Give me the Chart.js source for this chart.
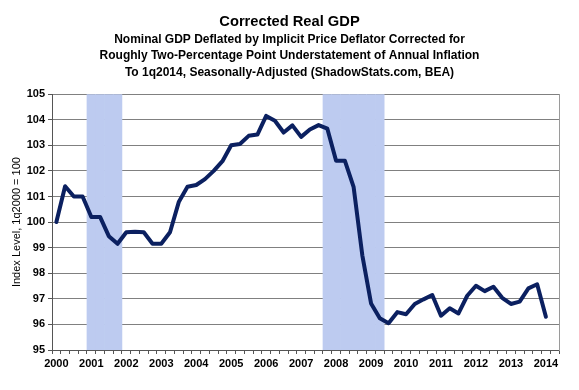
<!DOCTYPE html>
<html>
<head>
<meta charset="utf-8">
<title>Corrected Real GDP</title>
<script src="https://cdn.jsdelivr.net/npm/chart.js@4.4.1/dist/chart.umd.min.js"></script>
<style>
    html, body{
        margin:0;
        padding:0;
        background:#ffffff;
    }
    .chart-box{
        width:579px;
        height:390px;
        position:relative;
    }
</style>
</head>
<body>

<div class="chart-box">
    <canvas id="gdpChart"></canvas>
</div>

<script>

/* =====================================
   DATA
===================================== */

const years = [
    2000, 2001, 2002, 2003, 2004, 2005, 2006, 2007,
    2008, 2009, 2010, 2011, 2012, 2013, 2014
];

// quarterly index, 1q2000 = 100, through 1q2014
const correctedGdp = [
    100.0, 101.4, 101.0, 101.0,
    100.2, 100.2, 99.45, 99.15,
    99.6, 99.62, 99.6, 99.15,
    99.15, 99.6, 100.78, 101.38,
    101.45, 101.68, 102.0, 102.38,
    103.0, 103.05, 103.37, 103.42,
    104.15, 103.96, 103.5, 103.78,
    103.33, 103.62, 103.79, 103.65,
    102.4, 102.4, 101.38, 98.7,
    96.82, 96.24, 96.05, 96.48,
    96.4, 96.8, 96.98, 97.15,
    96.34, 96.63, 96.43, 97.12,
    97.51, 97.3, 97.47, 97.04,
    96.8, 96.89, 97.41, 97.57,
    96.3
];

// recession quarters (first, last)
const recessions = [
    ["2001 Q1", "2001 Q4"],
    ["2007 Q4", "2009 Q2"]
];

const yTicks = [95, 96, 97, 98, 99, 100, 101, 102, 103, 104, 105];

/* =====================================
   START
===================================== */

document.addEventListener("DOMContentLoaded", () => {

    initializeGdpChart();

});

/* =====================================
   HELPERS
===================================== */

function buildQuarterLabels(){

    const labels = [];

    years.forEach(year => {
        for(let q = 1; q <= 4; q++){
            labels.push(year + " Q" + q);
        }
    });

    // one empty quarter after the last point
    return labels.slice(0, correctedGdp.length + 1);

}

function buildRecessionBars(labels){

    return labels.map((label, i) => {

        const inside = recessions.some(r =>
            i >= labels.indexOf(r[0]) && i <= labels.indexOf(r[1])
        );

        return inside ? [yTicks[0], yTicks[yTicks.length - 1]] : null;

    });

}

/* =====================================
   GDP CHART
===================================== */

function initializeGdpChart(){

    const ctx = document.getElementById("gdpChart");

    if(!ctx) return;

    const labels = buildQuarterLabels();

    const font = "'Liberation Sans', Arial, sans-serif";

    new Chart(ctx, {

        data:{

            labels:labels,

            datasets:[

                {
                    type:"line",
                    label:"Corrected Real GDP",
                    data:correctedGdp,
                    borderColor:"#0b2060",
                    borderWidth:4,
                    borderJoinStyle:"round",
                    borderCapStyle:"round",
                    pointRadius:0,
                    tension:0,
                    fill:false,
                    order:0
                },

                {
                    type:"bar",
                    label:"Recession",
                    data:buildRecessionBars(labels),
                    backgroundColor:"#bdcbf0",
                    borderWidth:0,
                    barPercentage:1,
                    categoryPercentage:1,
                    order:1
                }

            ]

        },

        options:{

            responsive:true,
            maintainAspectRatio:false,
            animation:false,

            layout:{
                padding:{ left:0, right:0, top:0, bottom:0 }
            },

            plugins:{

                legend:{ display:false },
                tooltip:{ enabled:false },

                title:{
                    display:true,
                    text:"Corrected Real GDP",
                    color:"#000",
                    font:{ family:font, size:14.7, weight:"bold", lineHeight:1.2 },
                    padding:{ top:13, bottom:0.5 }
                },

                subtitle:{
                    display:true,
                    text:[
                        "Nominal GDP Deflated by Implicit Price Deflator Corrected for",
                        "Roughly Two-Percentage Point Understatement of Annual Inflation",
                        "To 1q2014, Seasonally-Adjusted (ShadowStats.com, BEA)"
                    ],
                    color:"#000",
                    font:{ family:font, size:12, weight:"bold", lineHeight:1.375 },
                    padding:{ top:0, bottom:13.5 }
                }

            },

            scales:{

                x:{
                    type:"category",
                    offset:true,
                    grid:{
                        offset:true,
                        drawOnChartArea:false,
                        tickLength:4,
                        tickColor:"#555"
                    },
                    border:{ color:"#555", width:1 },
                    ticks:{
                        autoSkip:false,
                        maxRotation:0,
                        padding:3,
                        color:"#000",
                        font:{ family:font, size:11, weight:"bold" },
                        callback:function(value, index){
                            return index % 4 === 0 ? labels[index].slice(0, 4) : "";
                        }
                    },
                    afterFit:function(scale){
                        scale.height = 40;
                    }
                },

                y:{
                    type:"linear",
                    position:"left",
                    min:yTicks[0],
                    max:yTicks[yTicks.length - 1],
                    afterBuildTicks:function(scale){
                        scale.ticks = yTicks.map(v => ({ value:v }));
                    },
                    grid:{
                        color:"#808080",
                        lineWidth:1,
                        tickLength:4,
                        tickColor:"#555"
                    },
                    border:{ color:"#555", width:1 },
                    ticks:{
                        padding:3,
                        color:"#000",
                        font:{ family:font, size:11, weight:"bold" }
                    },
                    title:{
                        display:true,
                        text:"Index Level, 1q2000 = 100",
                        color:"#000",
                        font:{ family:font, size:11, lineHeight:1.2 },
                        padding:{ top:10, bottom:0 }
                    },
                    afterFit:function(scale){
                        scale.width = 52;
                    }
                },

                yRight:{
                    type:"linear",
                    position:"right",
                    min:yTicks[0],
                    max:yTicks[yTicks.length - 1],
                    grid:{ drawOnChartArea:false, drawTicks:false },
                    border:{ color:"#9a9a9a", width:1, dash:[2, 2] },
                    ticks:{ display:false },
                    afterFit:function(scale){
                        scale.width = 20;
                    }
                }

            }

        }

    });

}

</script>
</body>
</html>
